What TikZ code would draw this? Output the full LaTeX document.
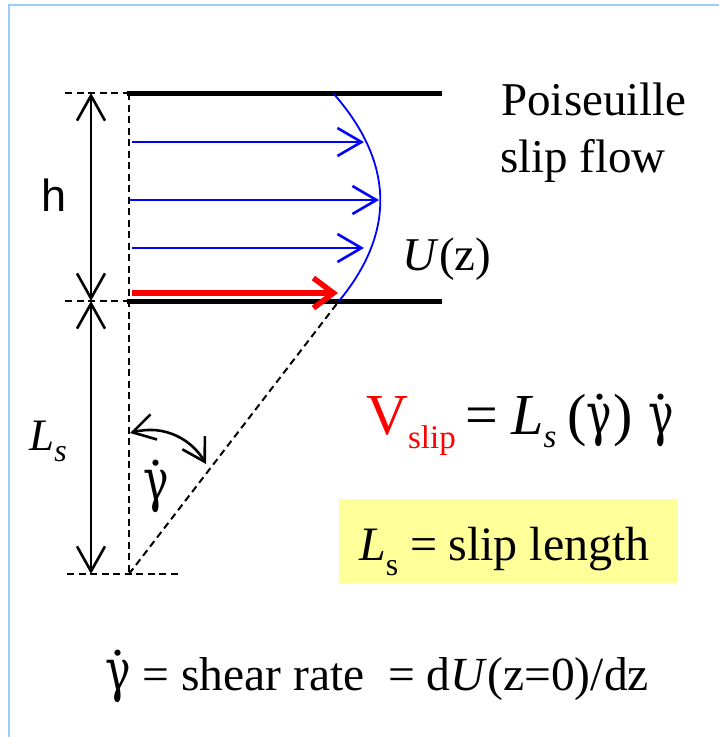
\documentclass[tikz,border=0pt]{standalone}
\usepackage{fontspec}
\setmainfont{Liberation Serif}
\newfontfamily\arialf{Liberation Sans}
\newfontfamily\gfont{DejaVu Serif}
\usetikzlibrary{arrows.meta}
\definecolor{framec}{RGB}{153,204,255}
\definecolor{boxy}{RGB}{255,255,153}
\definecolor{flowblue}{RGB}{0,0,255}
\definecolor{slipred}{RGB}{255,0,0}
\newcommand\fs[1]{\fontsize{#1}{#1}\selectfont}
\newcommand\gdot[1]{{\fs{#1}\ooalign{\scalebox{0.82}[1.12]{\gfont γ}\cr\hidewidth\raisebox{0.66em}{.}\hidewidth\cr}}}
\begin{document}
\begin{tikzpicture}[x=1pt,y=-1pt,
  wall/.style={line width=5pt},
  dsh/.style={line width=2pt, dash pattern=on 7pt off 4.5pt},
  dimarrow/.style={line width=2.6pt, {Straight Barb[length=25pt,width=28pt,line width=2.6pt]}-{Straight Barb[length=25pt,width=28pt,line width=2.6pt]}},
  flowarrow/.style={flowblue, line width=2.6pt, -{Straight Barb[length=24pt,width=28pt,line width=2.6pt]}},
  sliparrow/.style={slipred, line width=5.5pt, -{Straight Barb[length=20pt,width=30pt,line width=5.5pt]}},
  rotarrow/.style={line width=2.6pt, {Straight Barb[length=22pt,width=26pt,line width=2.6pt]}-{Straight Barb[length=22pt,width=26pt,line width=2.6pt]}},
  txt/.style={inner sep=0pt, anchor=base}]
\useasboundingbox (0,0) rectangle (719,737);
% frame
\coordinate (f0) at (9,737);
\coordinate (f1) at (9,5);
\coordinate (f2) at (719,5);
\draw[framec, line width=2pt] (f0) -- (f1) -- (f2);
% yellow box
\fill[boxy] (339,499) rectangle (678,583);
% walls
\coordinate (tl) at (127,93);
\coordinate (tr) at (442,93);
\coordinate (bl) at (127,301);
\coordinate (br) at (442,301);
\draw[wall] (tl) -- (tr);
\draw[wall] (bl) -- (br);
% dashed guides
\coordinate (dt0) at (65,93);
\coordinate (db0) at (65,301);
\coordinate (dg0) at (67,574);
\coordinate (dg1) at (178,574);
\coordinate (v0) at (129,93);
\coordinate (v1) at (129,574);
\coordinate (ps) at (339,301);
\coordinate (pt) at (333,93);
\draw[dsh] (dt0) -- (tl);
\draw[dsh] (db0) -- (bl);
\draw[dsh] (dg0) -- (dg1);
\draw[dsh] (v0) -- (v1);
\draw[dsh] (v1) -- (ps);
% dimension arrows
\coordinate (h0) at (91,93);
\coordinate (h1) at (91,301);
\coordinate (h2) at (91,574);
\draw[dimarrow] (h0) -- (h1);
\draw[dimarrow] (h1) -- (h2);
% velocity profile
\draw[flowblue, line width=1.8pt] (pt) .. controls (394,162) and (396,232) .. (ps);
% velocity arrows
\coordinate (a1s) at (132,142); \coordinate (a1e) at (364,142);
\coordinate (a2s) at (129,200); \coordinate (a2e) at (379,200);
\coordinate (a3s) at (132,248); \coordinate (a3e) at (364,248);
\coordinate (a4s) at (132,293); \coordinate (a4e) at (338,293);
\draw[flowarrow] (a1s) -- (a1e);
\draw[flowarrow] (a2s) -- (a2e);
\draw[flowarrow] (a3s) -- (a3e);
\draw[sliparrow] (a4s) -- (a4e);
% shear angle arrow
\coordinate (r0) at (130,433);
\coordinate (r1) at (206,464);
\draw[rotarrow] (r0) .. controls (165,424) and (192,440) .. (r1);
% texts
\node[txt, font=\fs{47}] (poi) at (594,115) {Poiseuille};
\node[txt, font=\fs{47}] (sf) at (583,172) {slip flow};
\node[txt, font=\fs{47}] (uz) at (447,270) {\textit{U}(z)};
\node[txt, font=\arialf\fs{45}] (hh) at (54,211) {h};
\node[txt, font=\fs{45}] (ls) at (48,450) {\textit{L}\raisebox{-0.25em}{\fs{32}\itshape s}};
\node[txt, font=\fs{52}] (ga) at (156,500) {\gdot{52}};
\node[txt, anchor=base west, font=\fs{58}] (form) at (366,434) {\textcolor{slipred}{V\raisebox{-14pt}{\fs{33}slip}}\hspace{10pt}=\hspace{13pt}\textit{L}\raisebox{-13pt}{\fs{33}\itshape s}\hspace{11pt}(\gdot{52}\hspace{1pt})\hspace{16pt}\gdot{52}};
\node[txt, anchor=base west, font=\fs{48}] (lsdef) at (359,560) {\textit{L}\raisebox{-15pt}{\fs{32}s}\hspace{12pt}=\hspace{11pt}slip length};
\node[txt, anchor=base west, font=\fs{47.5}] (gdef) at (105,690) {\gdot{52}\ = shear rate \ = d\textit{U}(z=0)/dz};
\end{tikzpicture}
\end{document}
